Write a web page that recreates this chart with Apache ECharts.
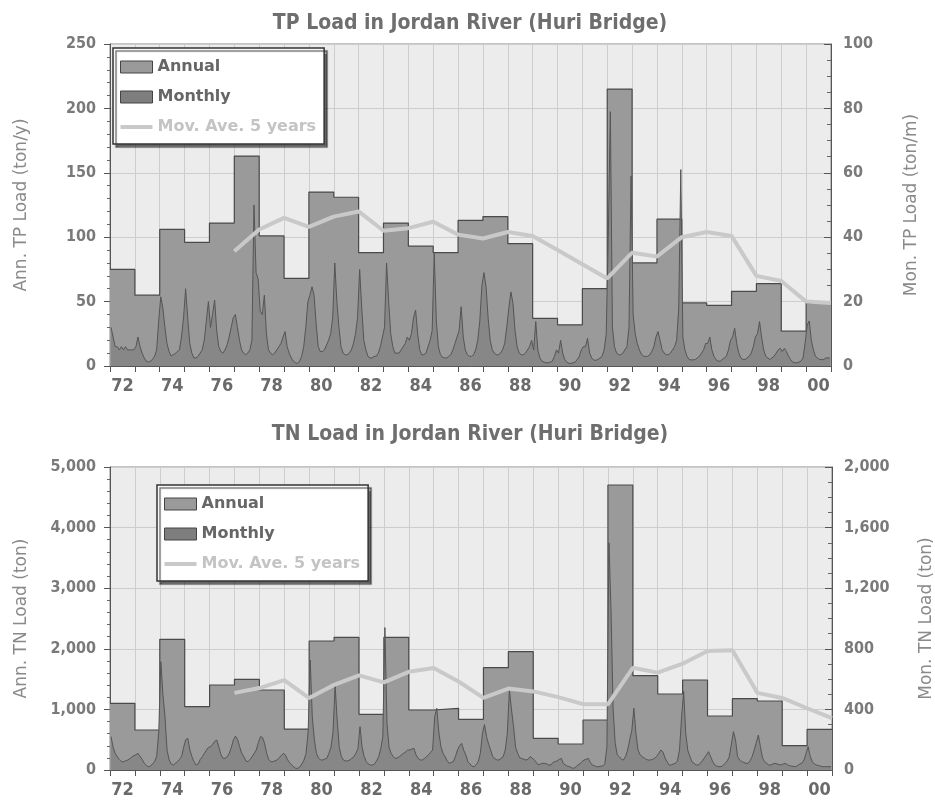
<!DOCTYPE html>
<html>
<head>
<meta charset="utf-8">
<script src="https://cdn.jsdelivr.net/npm/echarts@6/dist/echarts.min.js"></script>
<style>
html,body{margin:0;padding:0;background:#fff;}
#c{width:935px;height:810px;}
</style>
</head>
<body>
<div id="c"></div>
<script>
// ---------- DATA ----------
const years = ['72','73','74','75','76','77','78','79','80','81','82','83','84','85','86','87','88','89','90','91','92','93','94','95','96','97','98','99','00'];
const firstYear = 1972;

// TP (top chart)
const tpAnnual = [75,55,106,96,111,163,101,68,135,131,88,111,93,88,113,116,95,37,32,60,215,80,114,49,47,58,64,27,49];
// 5-year moving average, first value = 1972-76 average (plotted at end of 1976)
const tpMovAvg = [89,106,115,108,116,120,105,107,112,102,99,104,101,90,79,68,88,85,100,104,101,70,66,50,49];
// monthly (ton/month), one row per year Jan..Dec
const tpMonthly = [
 [12,9,6,6,5,6,5,6,5,5,5,5],
 [6,9,6,4,2.5,1.5,1.2,1.5,2,3,5,14],
 [21.5,18,12,7,4.5,3.1,3.5,3.9,4.5,5,9,15],
 [24,15,7,4,2.5,2.5,3,4,5,8,14,20],
 [12,16,20.5,11,6,4.5,4,5,6.5,9,12,15],
 [16,12,8,5,4,3.5,4,5,8,50,29,27],
 [17,16,22,10,5,4,3.5,4,5,6,7,9],
 [10.7,6,4,2.5,1.5,1,0.8,1.5,3,6,12,20],
 [22,24.6,22,13,6,4.5,4.5,5,6.5,8,10,15],
 [32,20,12,6,4,3.5,3.5,4,5,7,10,15],
 [30,18,8,5,3,2.5,2.5,3,3,4,6,9],
 [12,32,20,10,6,4,4,4,5,6,7,9],
 [8,10,15,17.4,10,5,3.5,3.5,4,6,8,11],
 [35,14,6,3.5,2.7,2.5,2.5,3,3.5,5,7,9],
 [11,18.4,9,5,3.5,3,3,3.5,5,8,14,25],
 [29,24.6,15,8,5,4,3.5,3.5,4,5,7,12],
 [18,23,19.5,11,6,4,3.5,3.5,4,5,6,8],
 [5,13.8,5,2.5,1.5,1.2,1,1,1.2,1.5,3,5],
 [4,8,4,2,1.2,0.8,0.8,1,1.2,2,3,5],
 [6,6,8.6,4,2.5,1.8,1.8,2,2.5,3,5,10],
 [40,79,12,6,4,3.5,3.5,4,5,6,12,59],
 [16,10,7,5,3.7,3,3,3,3.5,4.5,6,9],
 [10.7,8,5,4,3.5,3.5,4,5,6,8,18,61],
 [9,5,3,2,1.9,1.9,2,2.5,3,4,5,7],
 [7,9,5,3,2,1.5,1.5,2,2.5,3,5,8],
 [9,11.7,7,4,2.5,2,2,2.5,3,4,6,9],
 [10,13.8,9,5,3,2.5,2,2.5,3,4,5,5.5],
 [4.5,5.5,4.5,3,2,1.2,1,1,1.2,1.5,2.5,7],
 [12.7,14,8,5,3,2.5,2,2,2,2.5,2.5,2.5]
];

// TN (bottom chart)
const tnAnnual = [1100,660,2157,1045,1403,1496,1320,676,2129,2189,919,2189,990,1018,836,1688,1952,523,429,825,4703,1557,1254,1485,891,1177,1139,401,671];
const tnMovAvg = [1273,1352,1484,1188,1405,1562,1447,1620,1683,1461,1190,1344,1297,1203,1086,1083,1686,1607,1754,1965,1978,1273,1189,1019,856];
const tnMonthly = [
 [220,150,110,88,70,55,55,60,66,75,85,95],
 [100,110,90,70,45,30,22,25,40,55,90,250],
 [715,500,352,132,66,40,33,45,55,70,88,150],
 [200,209,132,88,55,33,40,70,88,110,132,150],
 [154,170,190,198,150,100,77,77,88,110,150,200],
 [224,200,154,110,88,60,55,70,88,110,132,180],
 [220,215,176,110,70,55,55,60,66,80,95,110],
 [100,70,50,33,22,11,11,20,40,66,110,250],
 [726,352,200,110,80,66,66,72,77,110,150,250],
 [561,330,150,90,66,60,60,66,77,88,110,140],
 [286,150,90,55,40,33,33,40,60,88,140,220],
 [940,308,150,110,88,77,80,88,100,110,120,132],
 [132,138,143,100,77,66,66,75,88,100,115,132],
 [352,407,250,154,110,88,60,44,50,55,90,132],
 [160,176,130,100,55,40,25,22,35,55,110,240],
 [300,220,170,130,88,75,66,66,77,88,132,242],
 [530,400,286,150,110,80,77,70,66,70,88,80],
 [66,50,33,40,44,44,40,33,33,50,55,60],
 [70,77,44,33,25,22,15,11,20,33,40,55],
 [66,70,77,50,33,28,22,22,25,26,40,150],
 [1500,1050,400,176,100,88,70,66,90,132,200,260],
 [407,242,132,100,88,80,70,66,66,70,77,90],
 [110,132,120,80,55,33,33,40,44,60,132,350],
 [520,242,130,90,55,44,33,33,44,60,80,100],
 [121,88,55,33,25,22,22,30,44,60,88,170],
 [253,198,88,66,55,50,44,44,60,88,132,180],
 [231,154,80,55,44,33,33,40,44,40,35,33],
 [40,44,35,28,26,24,22,30,40,44,66,110],
 [154,90,55,40,33,30,25,22,22,22,22,22]
];

// ---------- helpers (map data onto the year scale) ----------
function stepData(arr){
  const d = arr.map((v,i)=>[firstYear+i, v]);
  d.push([firstYear+arr.length, arr[arr.length-1]]);
  return d;
}
function monthlyData(rows){
  const d = [];
  rows.forEach((row,i)=>row.forEach((v,m)=>d.push([firstYear+i+(m+0.5)/12, v])));
  return d;
}
function maData(arr){ return arr.map((v,i)=>[firstYear+5+i, v]); }

const COND = '"DejaVu Sans Condensed","Liberation Sans Narrow","DejaVu Sans",sans-serif';
const SANS = '"DejaVu Sans",Verdana,sans-serif';
const fmt = v => v.toLocaleString('en-US');

function catAxis(g){
  return {type:'category', gridIndex:g, data:years, boundaryGap:true,
    axisLine:{lineStyle:{color:'#555',width:1}},
    axisTick:{show:true, interval:0, length:6, lineStyle:{color:'#555'}},
    axisLabel:{interval:1, fontSize:18, fontWeight:'bold', fontFamily:COND, color:'#6a6a6a', margin:11},
    splitLine:{show:true, interval:0, lineStyle:{color:'#cdcdcd',width:1}}};
}
function valXAxis(g){ return {type:'value', gridIndex:g, min:1972, max:2001, show:false}; }
function leftAxis(g,max,intv,name,minorN){
  return {type:'value', gridIndex:g, position:'left', min:0, max:max, interval:intv,
    axisLine:{show:true, lineStyle:{color:'#555'}},
    axisTick:{show:true, length:6, lineStyle:{color:'#555'}},
    minorTick:{show:true, splitNumber:minorN, length:3, lineStyle:{color:'#666'}},
    splitLine:{show:true, lineStyle:{color:'#cdcdcd'}},
    axisLabel:{fontSize:16, fontWeight:'bold', fontFamily:COND, color:'#7a7a7a', margin:14, formatter:fmt},
    name:name, nameLocation:'middle', nameGap:80,
    nameTextStyle:{fontSize:17, fontFamily:SANS, color:'#8a8a8a'}};
}
function rightAxis(g,max,intv,name,gap,minorN){
  return {type:'value', gridIndex:g, position:'right', min:0, max:max, interval:intv,
    axisLine:{show:true, lineStyle:{color:'#555'}},
    axisTick:{show:true, inside:true, length:7, lineStyle:{color:'#555'}},
    minorTick:{show:true, splitNumber:minorN, length:4, lineStyle:{color:'#666'}},
    splitLine:{show:false},
    axisLabel:{fontSize:16, fontWeight:'bold', fontFamily:COND, color:'#7a7a7a', margin:12, formatter:fmt},
    name:name, nameLocation:'middle', nameGap:gap,
    nameTextStyle:{fontSize:17, fontFamily:SANS, color:'#8a8a8a'}};
}
function legend(left,top){
  return {left:left, top:top, orient:'vertical', selectedMode:false,
    itemWidth:32, itemHeight:12, itemGap:14,
    backgroundColor:'#fff', borderColor:'#333', borderWidth:1.5,
    shadowColor:'rgba(0,0,0,0.55)', shadowBlur:1, shadowOffsetX:3, shadowOffsetY:3,
    padding:[11,8,9,7],
    textStyle:{fontSize:16, fontWeight:'bold', fontFamily:SANS, color:'#666'},
    data:[
      {name:'Annual', icon:'rect', itemStyle:{color:'#9a9a9a', borderColor:'#444', borderWidth:1}},
      {name:'Monthly', icon:'rect', itemStyle:{color:'#7e7e7e', borderColor:'#444', borderWidth:1}},
      {name:'Mov. Ave. 5 years', icon:'path://M0,0H32V4H0Z',
       itemStyle:{color:'#c9c9c9', borderWidth:0}, textStyle:{color:'#c4c4c4'}}
    ]};
}
function seriesSet(xi, yl, yr, annual, monthly, ma){
  return [
    {name:'Annual', type:'line', xAxisIndex:xi, yAxisIndex:yl, step:'end', symbol:'none', z:2,
     data:stepData(annual), lineStyle:{color:'#4a4a4a', width:1.2},
     itemStyle:{color:'#9a9a9a'}, areaStyle:{color:'#9a9a9a', opacity:1}},
    {name:'Monthly', type:'line', xAxisIndex:xi, yAxisIndex:yr, symbol:'none', z:3,
     data:monthlyData(monthly), lineStyle:{color:'#555', width:1},
     itemStyle:{color:'#7e7e7e'}, areaStyle:{color:'#878787', opacity:1}},
    {name:'Mov. Ave. 5 years', type:'line', xAxisIndex:xi, yAxisIndex:yl, symbol:'none', z:4,
     data:maData(ma), lineStyle:{color:'#c9c9c9', width:4}, itemStyle:{color:'#c9c9c9'}}
  ];
}

const chart = echarts.init(document.getElementById('c'), null, {renderer:'canvas'});
chart.setOption({
  backgroundColor:'#fff',
  animation:false,
  title:[
    {text:'TP Load in Jordan River (Huri Bridge)', left:465, top:8, textAlign:'center',
     textStyle:{fontSize:21, fontWeight:'bold', fontFamily:COND, color:'#6e6e6e'}},
    {text:'TN Load in Jordan River (Huri Bridge)', left:465, top:419, textAlign:'center',
     textStyle:{fontSize:21, fontWeight:'bold', fontFamily:COND, color:'#6e6e6e'}}
  ],
  grid:[
    {left:110, right:104, top:44, height:322, show:true, backgroundColor:'#ececec', borderColor:'#888', borderWidth:1,
     outerBoundsMode:'none', containLabel:false},
    {left:110, right:103, top:467, height:303, show:true, backgroundColor:'#ececec', borderColor:'#888', borderWidth:1,
     outerBoundsMode:'none', containLabel:false}
  ],
  legend:[legend(113,48), legend(157,485)],
  xAxis:[catAxis(0), valXAxis(0), catAxis(1), valXAxis(1)],
  yAxis:[
    leftAxis(0,250,50,'Ann. TP Load (ton/y)',5),
    rightAxis(0,100,20,'Mon. TP Load (ton/m)',72,4),
    leftAxis(1,5000,1000,'Ann. TN Load (ton)',5),
    rightAxis(1,2000,400,'Mon. TN Load (ton)',86,4)
  ],
  series:[].concat(
    seriesSet(1,0,1,tpAnnual,tpMonthly,tpMovAvg),
    seriesSet(3,2,3,tnAnnual,tnMonthly,tnMovAvg)
  )
});
</script>
</body>
</html>
